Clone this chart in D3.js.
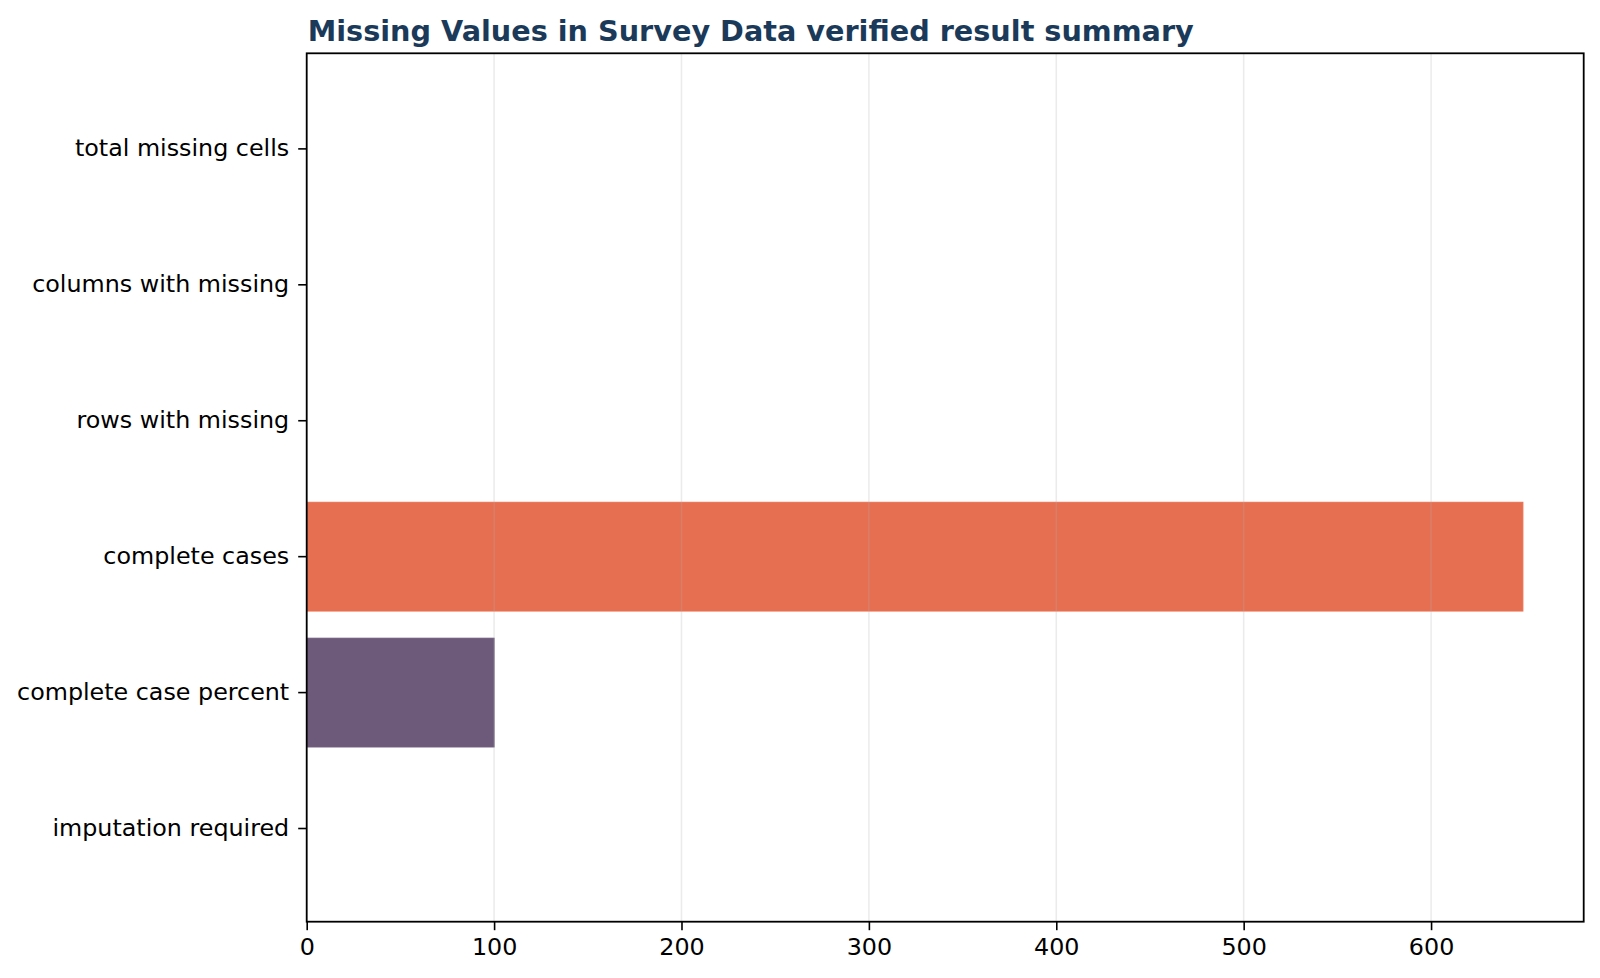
<!DOCTYPE html>
<html>
<head>
<meta charset="utf-8">
<script src="https://cdn.jsdelivr.net/npm/d3@7"></script>
<style>
  body { margin: 0; background: #fff; }
  svg { display: block; }
</style>
</head>
<body>
<svg id="chart"></svg>
<script>
var width = 1600, height = 978;
var margin = {top: 53.3, right: 16.3, bottom: 56.3, left: 306.7};

// data
var categories = ["total missing cells", "columns with missing", "rows with missing",
                  "complete cases", "complete case percent", "imputation required"];
var values = [0, 0, 0, 649, 100, 0];
var barColors = ["#2A9D8F", "#E9C46A", "#F4A261", "#E76F51", "#6D597A", "#355070"];
var xTicks = [0, 100, 200, 300, 400, 500, 600];
var title = "Missing Values in Survey Data verified result summary";

var svg = d3.select("#chart")
    .attr("width", width)
    .attr("height", height);

var g = svg.append("g")
    .attr("transform", "translate(" + margin.left + "," + margin.top + ")");

var w = width - margin.left - margin.right;
var h = height - margin.top - margin.bottom;

// matplotlib style: 5% margin on the far end, bars stick to zero
var x = d3.scaleLinear()
    .domain([0, d3.max(values) * 1.05])
    .range([0, w]);

var y = d3.scaleBand()
    .domain(categories)
    .range([1.8, h + 0.6])
    .paddingInner(0.2)
    .paddingOuter(0.29);

g.selectAll("rect.bar")
    .data(categories)
    .enter().append("rect")
    .attr("class", "bar")
    .attr("x", x(0))
    .attr("y", function (d) { return y(d); })
    .attr("width", function (d, i) { return x(values[i]) - x(0); })
    .attr("height", y.bandwidth())
    .attr("fill", function (d, i) { return barColors[i]; })
    .attr("stroke", function (d, i) { return barColors[i]; })
    .attr("stroke-width", 1)
    .style("display", function (d, i) { return values[i] > 0 ? null : "none"; });

// vertical grid, drawn over bars like the reference
g.selectAll("line.grid")
    .data(xTicks)
    .enter().append("line")
    .attr("class", "grid")
    .attr("x1", function (d) { return x(d); })
    .attr("x2", function (d) { return x(d); })
    .attr("y1", 0)
    .attr("y2", h)
    .attr("stroke", "#b0b0b0")
    .attr("stroke-opacity", 0.25)
    .attr("stroke-width", 1.5);

var fontFam = "'DejaVu Sans', sans-serif";

var xAxis = g.append("g")
    .attr("transform", "translate(0," + h + ")")
    .call(d3.axisBottom(x).tickValues(xTicks).tickFormat(d3.format("d")).tickSize(8.5).tickPadding(8));

var yAxis = g.append("g")
    .call(d3.axisLeft(y).tickSize(8.5).tickPadding(9));

[xAxis, yAxis].forEach(function (a) {
    a.select(".domain").remove();
    a.selectAll(".tick line").attr("stroke", "#000").attr("stroke-width", 1.6);
    a.selectAll(".tick text")
        .attr("fill", "#000")
        .style("font-family", fontFam)
        .style("font-size", "23.8px");
});
yAxis.selectAll(".tick text").attr("dy", "0.31em");

// frame
g.append("rect")
    .attr("x", 0)
    .attr("y", 0)
    .attr("width", w)
    .attr("height", h)
    .attr("fill", "none")
    .attr("stroke", "#000")
    .attr("stroke-width", 1.8);

svg.append("text")
    .attr("x", margin.left + 1)
    .attr("y", 41)
    .attr("fill", "#1b3a5a")
    .style("font-family", fontFam)
    .style("font-weight", "bold")
    .style("font-size", "28.7px")
    .text(title);
</script>
</body>
</html>
